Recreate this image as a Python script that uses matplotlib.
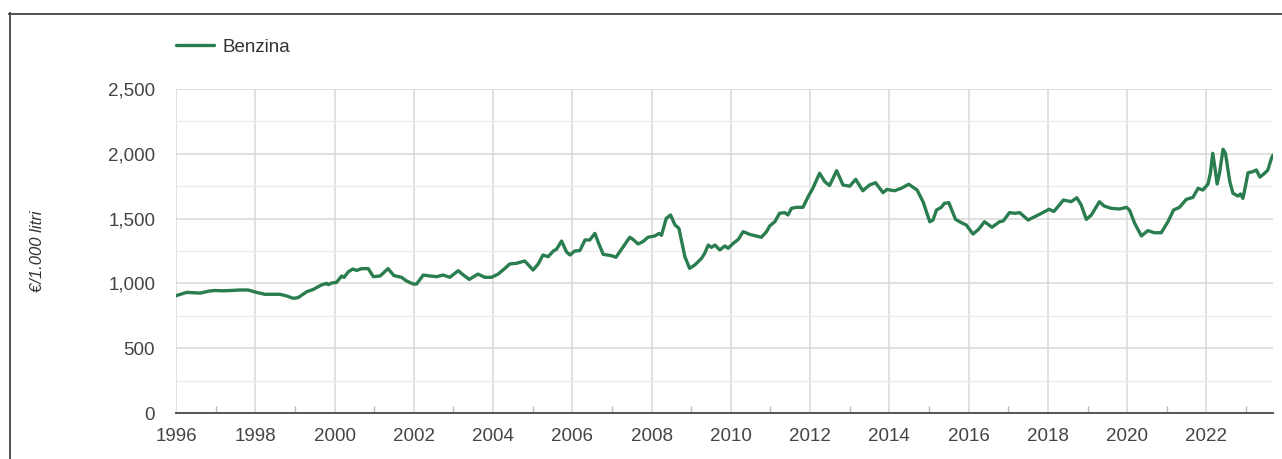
import matplotlib
matplotlib.use("Agg")
import matplotlib.pyplot as plt
from matplotlib.lines import Line2D
from matplotlib.ticker import MultipleLocator, FuncFormatter

# ---- data (decimal year, €/1.000 litri) ----
years = [
    1996.00, 1996.27, 1996.61, 1996.84, 1996.98, 1997.19, 1997.44, 1997.61, 1997.82,
    1998.04, 1998.24, 1998.62, 1998.79, 1998.96, 1999.08, 1999.30, 1999.46, 1999.67,
    1999.80, 1999.84, 1999.93, 2000.05, 2000.18, 2000.24, 2000.35, 2000.46, 2000.56,
    2000.68, 2000.85, 2000.98, 2001.15, 2001.35, 2001.50, 2001.69, 2001.82, 2001.99,
    2002.07, 2002.24, 2002.41, 2002.58, 2002.74, 2002.91, 2003.12, 2003.25, 2003.40,
    2003.62, 2003.79, 2003.96, 2004.13, 2004.30, 2004.42, 2004.59, 2004.80, 2005.01,
    2005.14, 2005.26, 2005.39, 2005.52, 2005.60, 2005.73, 2005.85, 2005.94, 2006.06,
    2006.19, 2006.32, 2006.44, 2006.57, 2006.65, 2006.78, 2006.99, 2007.10, 2007.24,
    2007.45, 2007.53, 2007.66, 2007.78, 2007.91, 2008.08, 2008.19, 2008.25, 2008.37,
    2008.48, 2008.59, 2008.69, 2008.84, 2008.96, 2009.09, 2009.26, 2009.34, 2009.43,
    2009.51, 2009.60, 2009.72, 2009.85, 2009.93, 2010.06, 2010.19, 2010.31, 2010.48,
    2010.77, 2010.90, 2010.98, 2011.11, 2011.23, 2011.36, 2011.44, 2011.53, 2011.65,
    2011.82, 2011.95, 2012.07, 2012.24, 2012.37, 2012.49, 2012.67, 2012.83, 2013.00,
    2013.15, 2013.33, 2013.50, 2013.65, 2013.84, 2013.94, 2014.13, 2014.30, 2014.49,
    2014.70, 2014.85, 2015.02, 2015.10, 2015.19, 2015.31, 2015.39, 2015.50, 2015.67,
    2015.82, 2015.94, 2016.11, 2016.25, 2016.40, 2016.59, 2016.78, 2016.87, 2017.03,
    2017.16, 2017.29, 2017.50, 2017.67, 2017.84, 2018.03, 2018.15, 2018.29, 2018.39,
    2018.59, 2018.73, 2018.84, 2018.97, 2019.09, 2019.30, 2019.42, 2019.60, 2019.81,
    2019.98, 2020.06, 2020.19, 2020.36, 2020.52, 2020.69, 2020.86, 2021.03, 2021.17,
    2021.32, 2021.49, 2021.66, 2021.79, 2021.91, 2022.04, 2022.10, 2022.16, 2022.22,
    2022.27, 2022.33, 2022.42, 2022.48, 2022.59, 2022.67, 2022.80, 2022.86, 2022.92,
    2022.99, 2023.05, 2023.17, 2023.26, 2023.35, 2023.47, 2023.55, 2023.64, 2023.68,
]
benzina = [
    905, 931, 925, 941, 945, 943, 946, 949, 949,
    930, 916, 916, 903, 885, 890, 936, 953, 988,
    1000, 990, 1003, 1008, 1057, 1046, 1090, 1111, 1100,
    1114, 1114, 1052, 1057, 1114, 1060, 1047, 1018, 995,
    995, 1065, 1057, 1052, 1065, 1047, 1098, 1065, 1031,
    1072, 1047, 1047, 1072, 1116, 1150, 1155, 1173, 1103,
    1150, 1219, 1206, 1250, 1263, 1327, 1245, 1219, 1250,
    1253, 1335, 1335, 1386, 1320, 1224, 1214, 1201, 1263,
    1356, 1340, 1304, 1322, 1356, 1366, 1386, 1371, 1502,
    1528, 1451, 1425, 1206, 1116, 1142, 1193, 1232, 1296,
    1278, 1296, 1258, 1289, 1271, 1309, 1340, 1399, 1378,
    1356, 1399, 1443, 1476, 1541, 1546, 1528, 1579, 1587,
    1587, 1669, 1734, 1850, 1785, 1755, 1870, 1759, 1750,
    1803, 1715, 1759, 1777, 1700, 1725, 1715, 1734, 1765,
    1720, 1630, 1476, 1489, 1566, 1587, 1618, 1623, 1494,
    1468, 1451, 1381, 1417, 1476, 1433, 1476, 1481, 1546,
    1541, 1546, 1489, 1515, 1541, 1572, 1555, 1605, 1643,
    1631, 1661, 1605, 1494, 1525, 1630, 1597, 1579, 1574,
    1587, 1566, 1463, 1366, 1407, 1391, 1391, 1476, 1566,
    1587, 1648, 1664, 1734, 1720, 1767, 1850, 2004, 1880,
    1767, 1850, 2035, 2004, 1785, 1695, 1674, 1690, 1656,
    1758, 1854, 1862, 1875, 1820, 1850, 1875, 1965, 1990,
]
series_name = "Benzina"
y_label = "€/1.000 litri"
x_ticks = list(range(1996, 2023, 2))

# ---- figure ----
W, H = 1282, 459
fig = plt.figure(figsize=(W / 100, H / 100), dpi=100)
plt.rcParams["font.family"] = ["Liberation Sans", "DejaVu Sans"]

left, right, top, bottom = 176, 1273, 89, 413
ax = fig.add_axes([left / W, 1 - bottom / H, (right - left) / W, (bottom - top) / H])

line_color = "#2a7d4f"
ax.plot(years, benzina, color=line_color, lw=2.4, solid_joinstyle="round",
        solid_capstyle="round", label=series_name, zorder=3)

ax.set_xlim(1996, 2023.68)
ax.set_ylim(0, 2500)

ax.set_xticks(x_ticks)
ax.xaxis.set_minor_locator(MultipleLocator(1))
ax.yaxis.set_major_locator(MultipleLocator(500))
ax.yaxis.set_minor_locator(MultipleLocator(250))
ax.yaxis.set_major_formatter(FuncFormatter(lambda v, p: f"{int(v):,}"))

ax.grid(True, which="major", axis="both", color="#d9d9d9", lw=1.1, zorder=0)
ax.grid(True, which="minor", axis="y", color="#ececec", lw=1.0, zorder=0)

for s in ["top", "right", "left"]:
    ax.spines[s].set_visible(False)
ax.spines["bottom"].set_color("#555555")
ax.spines["bottom"].set_linewidth(1.4)
ax.spines["bottom"].set_zorder(4)

ax.tick_params(axis="x", which="major", length=0, pad=10.5, labelsize=13.5, labelcolor="#444444")
ax.tick_params(axis="x", which="minor", direction="in", length=5, width=1, color="#bbbbbb")
ax.tick_params(axis="y", which="both", length=0, pad=15, labelsize=13.5, labelcolor="#444444")

fig.text(38 / W, 1 - 251 / H, y_label, rotation=90, ha="center", va="center",
         fontsize=12, style="italic", color="#333333")

leg = ax.legend(loc="center left", bbox_to_anchor=(left / W, 1 - 47 / H),
                bbox_transform=fig.transFigure, frameon=False, fontsize=13.5,
                handlelength=2.0, handletextpad=0.5, borderpad=0, borderaxespad=0)
for t in leg.get_texts():
    t.set_color("#333333")

# outer frame (left and top edges)
fig.add_artist(Line2D([9.5 / W, 9.5 / W], [0, 1 - 13 / H], transform=fig.transFigure,
                      color="#444444", lw=1.3))
fig.add_artist(Line2D([9 / W, 1], [1 - 13.5 / H, 1 - 13.5 / H], transform=fig.transFigure,
                      color="#444444", lw=1.3))

fig.savefig("out.png", dpi=100)
